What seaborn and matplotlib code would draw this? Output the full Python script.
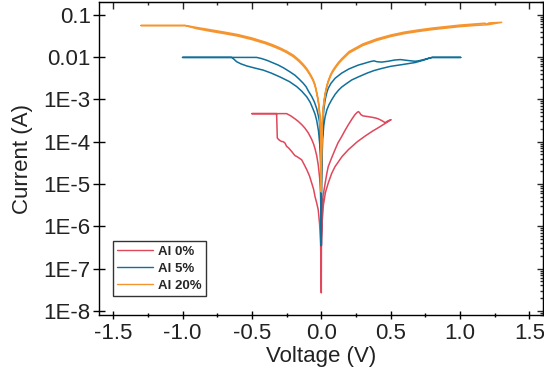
import matplotlib
matplotlib.use("Agg")
import numpy as np
import pandas as pd
import matplotlib.pyplot as plt
from matplotlib.ticker import MultipleLocator, LogLocator, NullFormatter
import seaborn as sns

# --- I-V sweeps: voltage (V) and |current| (A) ---
# each pair of lists is one full sweep loop (out and back on both sides)

# Al 0%
al0_v = [0.0, 0.001, 0.005, 0.012, 0.027, 0.04, 0.05, 0.075, 0.099, 0.12, 0.147, 0.17,
         0.195, 0.22, 0.243, 0.258, 0.267, 0.275, 0.285, 0.30, 0.32, 0.34, 0.36, 0.375,
         0.39, 0.41, 0.435, 0.45, 0.46, 0.47, 0.48, 0.503,
         0.47, 0.44, 0.411, 0.37, 0.315, 0.26, 0.195, 0.15, 0.099, 0.075, 0.05, 0.03,
         0.015, 0.005, 0.001, 0.0,
         -0.002, -0.006, -0.012, -0.022, -0.033, -0.045, -0.055, -0.07, -0.094, -0.118,
         -0.14, -0.166, -0.19, -0.22, -0.25, -0.50,
         -0.322, -0.317, -0.31, -0.30, -0.286, -0.275, -0.262, -0.25, -0.235, -0.214,
         -0.19, -0.177, -0.154, -0.141, -0.125, -0.105, -0.085, -0.069, -0.055, -0.045,
         -0.033, -0.022, -0.012, -0.005, -0.001, 0.0]
al0_i = [2.7e-8, 5.0e-7, 2.51e-6, 5.01e-6, 1.0e-5, 1.78e-5, 2.57e-5, 4.17e-5, 6.46e-5,
         9.33e-5, 1.32e-4, 1.82e-4, 2.51e-4, 3.39e-4, 4.37e-4, 4.9e-4, 5.13e-4, 4.9e-4,
         4.37e-4, 4.07e-4, 3.98e-4, 3.89e-4, 3.8e-4, 3.72e-4, 3.63e-4, 3.47e-4, 3.16e-4,
         2.95e-4, 2.82e-4, 2.95e-4, 3.09e-4, 3.31e-4,
         2.82e-4, 2.45e-4, 2.14e-4, 1.78e-4, 1.35e-4, 1.0e-4, 6.46e-5, 4.47e-5, 2.57e-5,
         1.78e-5, 1.05e-5, 6.31e-6, 3.16e-6, 1.12e-6, 3.98e-7, 3.5e-7,
         2.0e-6, 6.31e-6, 1.41e-5, 2.82e-5, 4.68e-5, 6.76e-5, 8.71e-5, 1.15e-4, 1.62e-4,
         2.09e-4, 2.51e-4, 3.02e-4, 3.47e-4, 4.07e-4, 4.6e-4, 4.6e-4,
         4.6e-4, 1.22e-4, 1.15e-4, 1.07e-4, 1.01e-4, 1.0e-4, 9.33e-5, 7.76e-5, 7.08e-5,
         5.89e-5, 4.68e-5, 4.47e-5, 3.98e-5, 3.72e-5, 2.95e-5, 2.19e-5, 1.55e-5, 1.05e-5,
         7.41e-6, 5.01e-6, 3.55e-6, 2.45e-6, 1.12e-6, 3.98e-7, 1.0e-7, 2.7e-8]

# Al 5%
al5_v = [0.0, 0.001, 0.004, 0.01, 0.018, 0.027, 0.04, 0.05, 0.07, 0.1, 0.147, 0.2, 0.267,
         0.31, 0.34, 0.363, 0.38, 0.40, 0.435, 0.48, 0.53, 0.57, 0.62, 0.676, 0.70, 0.74,
         0.784, 0.80, 1.005,
         0.80, 0.784, 0.73, 0.676, 0.58, 0.5, 0.435, 0.38, 0.33, 0.267, 0.22, 0.18, 0.147,
         0.125, 0.1, 0.075, 0.055, 0.04, 0.027, 0.018, 0.01, 0.004, 0.001, 0.0,
         -0.001, -0.003, -0.006, -0.01, -0.014, -0.02, -0.033, -0.05, -0.069, -0.09, -0.11,
         -0.13, -0.16, -0.19, -0.226, -0.27, -0.31, -0.346, -0.39, -0.43, -0.466, -1.0,
         -0.646, -0.63, -0.61, -0.58, -0.538, -0.48, -0.418, -0.36, -0.298, -0.23, -0.177,
         -0.14, -0.105, -0.08, -0.058, -0.045, -0.033, -0.02, -0.01, -0.004, -0.001, 0.0]
al5_i = [3.5e-7, 1.0e-5, 6.31e-5, 2.51e-4, 5.62e-4, 9.55e-4, 1.45e-3, 1.82e-3, 2.4e-3,
         3.16e-3, 4.17e-3, 5.25e-3, 6.46e-3, 7.08e-3, 7.59e-3, 7.94e-3, 8.13e-3, 7.76e-3,
         7.59e-3, 7.94e-3, 8.51e-3, 8.71e-3, 8.32e-3, 7.94e-3, 8.13e-3, 8.71e-3, 9.55e-3,
         9.8e-3, 9.8e-3,
         9.8e-3, 9.55e-3, 8.32e-3, 7.41e-3, 6.61e-3, 6.03e-3, 5.37e-3, 4.79e-3, 4.17e-3,
         3.39e-3, 2.88e-3, 2.34e-3, 1.95e-3, 1.66e-3, 1.32e-3, 9.77e-4, 7.41e-4, 5.62e-4,
         3.8e-4, 2.4e-4, 1.12e-4, 3.16e-5, 5.0e-6, 3.5e-7,
         1.0e-5, 3.98e-5, 1.0e-4, 2.0e-4, 3.02e-4, 3.98e-4, 6.03e-4, 8.71e-4, 1.17e-3,
         1.51e-3, 2.0e-3, 2.4e-3, 3.02e-3, 3.72e-3, 4.47e-3, 5.5e-3, 6.46e-3, 7.24e-3,
         8.32e-3, 9.2e-3, 9.8e-3, 9.8e-3,
         9.8e-3, 8.91e-3, 7.76e-3, 6.92e-3, 6.17e-3, 5.5e-3, 4.9e-3, 4.17e-3, 3.39e-3,
         2.63e-3, 2.0e-3, 1.55e-3, 1.15e-3, 8.51e-4, 5.75e-4, 4.47e-4, 3.16e-4, 1.78e-4,
         7.94e-5, 2.51e-5, 5.0e-6, 3.5e-7]

# Al 20%
al20_v = [0.0, 0.001, 0.002, 0.004, 0.007, 0.01, 0.015, 0.02, 0.03, 0.04, 0.05, 0.065,
          0.08, 0.1, 0.125, 0.15, 0.175, 0.2, 0.25, 0.3, 0.35, 0.4, 0.5, 0.6, 0.7, 0.8,
          0.9, 1.0, 1.1, 1.18, 1.19, 1.21, 1.3,
          1.2, 1.1, 1.0, 0.9, 0.8, 0.7, 0.6, 0.5, 0.4, 0.35, 0.3, 0.25, 0.2, 0.175, 0.15,
          0.125, 0.1, 0.08, 0.065, 0.05, 0.04, 0.03, 0.02, 0.015, 0.01, 0.007, 0.004,
          0.002, 0.001, 0.0,
          -0.001, -0.002, -0.004, -0.007, -0.01, -0.015, -0.02, -0.03, -0.045, -0.06,
          -0.08, -0.105, -0.13, -0.16, -0.2, -0.25, -0.3, -0.35, -0.4, -0.45, -0.5, -0.6,
          -0.7, -0.8, -0.9, -0.95, -0.98, -1.3,
          -0.98, -0.95, -0.9, -0.8, -0.7, -0.6, -0.5, -0.45, -0.4, -0.35, -0.3, -0.25,
          -0.2, -0.16, -0.13, -0.105, -0.08, -0.06, -0.045, -0.03, -0.02, -0.015, -0.01,
          -0.007, -0.004, -0.002, -0.001, 0.0]
al20_i = [6.6e-6, 3.16e-5, 6.31e-5, 1.41e-4, 2.82e-4, 4.17e-4, 6.76e-4, 9.55e-4, 1.51e-3,
          2.14e-3, 2.75e-3, 3.72e-3, 4.68e-3, 5.89e-3, 7.59e-3, 9.33e-3, 1.12e-2, 1.35e-2,
          1.66e-2, 2.04e-2, 2.34e-2, 2.69e-2, 3.31e-2, 3.89e-2, 4.37e-2, 4.84e-2, 5.25e-2,
          5.69e-2, 6.03e-2, 6.31e-2, 6.0e-2, 6.4e-2, 6.61e-2,
          5.8e-2, 5.55e-2, 5.23e-2, 4.83e-2, 4.45e-2, 4.02e-2, 3.58e-2, 3.05e-2, 2.47e-2,
          2.15e-2, 1.88e-2, 1.53e-2, 1.24e-2, 1.03e-2, 8.6e-3, 7.0e-3, 5.4e-3, 4.3e-3,
          3.42e-3, 2.53e-3, 1.97e-3, 1.39e-3, 8.8e-4, 6.2e-4, 3.84e-4, 2.6e-4, 1.3e-4,
          5.8e-5, 2.9e-5, 6.6e-6,
          3.16e-5, 6.31e-5, 1.41e-4, 2.82e-4, 3.98e-4, 6.31e-4, 8.71e-4, 1.35e-3, 2.24e-3,
          3.02e-3, 3.98e-3, 5.37e-3, 6.76e-3, 8.51e-3, 1.1e-2, 1.38e-2, 1.66e-2, 1.95e-2,
          2.24e-2, 2.51e-2, 2.82e-2, 3.39e-2, 3.89e-2, 4.42e-2, 5.01e-2, 5.37e-2, 5.56e-2,
          5.56e-2,
          5.56e-2, 5.2e-2, 4.7e-2, 4.07e-2, 3.58e-2, 3.12e-2, 2.59e-2, 2.31e-2, 2.06e-2,
          1.79e-2, 1.53e-2, 1.27e-2, 1.01e-2, 7.8e-3, 6.2e-3, 4.94e-3, 3.66e-3, 2.78e-3,
          2.06e-3, 1.24e-3, 8.0e-4, 5.8e-4, 3.66e-4, 2.6e-4, 1.3e-4, 5.8e-5, 2.9e-5, 6.6e-6]

labels = ["Al 0%", "Al 5%", "Al 20%"]
colors = ["#E0475B", "#11709A", "#F5952F"]

x_ticks = [-1.5, -1.0, -0.5, 0.0, 0.5, 1.0, 1.5]
x_tick_labels = ["-1.5", "-1.0", "-0.5", "0.0", "0.5", "1.0", "1.5"]
y_ticks = [1e-8, 1e-7, 1e-6, 1e-5, 1e-4, 1e-3, 1e-2, 1e-1]
y_tick_labels = ["1E-8", "1E-7", "1E-6", "1E-5", "1E-4", "1E-3", "0.01", "0.1"]

# --- build long table ---
frames = []
for name, v, i in zip(labels, [al0_v, al5_v, al20_v], [al0_i, al5_i, al20_i]):
    frames.append(pd.DataFrame({"V": v, "I": i, "sample": name}))
df = pd.concat(frames, ignore_index=True)

# --- plot ---
sns.set_style("ticks")
plt.rcParams["font.family"] = ["Liberation Sans", "DejaVu Sans"]
plt.rcParams["axes.unicode_minus"] = False

fig = plt.figure(figsize=(5.44, 3.76), dpi=100)
ax = fig.add_axes([0.1825, 0.1622, 0.8162, 0.8325])

sns.lineplot(data=df, x="V", y="I", hue="sample", hue_order=labels,
             palette=colors, estimator=None, sort=False, linewidth=1.1, ax=ax)
ax.set_yscale("log")

ax.set_xlim(-1.6, 1.6)
ax.set_ylim(8.0e-9, 0.2)
ax.set_xticks(x_ticks)
ax.set_xticklabels(x_tick_labels)
ax.xaxis.set_minor_locator(MultipleLocator(0.25))
ax.set_yticks(y_ticks)
ax.set_yticklabels(y_tick_labels)
ax.yaxis.set_minor_locator(LogLocator(base=10, subs=np.arange(2, 10)))
ax.yaxis.set_minor_formatter(NullFormatter())

txt = "#222222"
ax.tick_params(which="both", direction="inout", width=1.0, colors="black",
               labelcolor=txt, labelsize=16, top=False, right=False)
ax.tick_params(axis="y", which="major", length=8.4, pad=2)
ax.tick_params(axis="y", which="minor", length=4.8)
ax.tick_params(axis="x", which="major", length=6, pad=3)
ax.tick_params(axis="x", which="minor", length=3.4)
for s in ax.spines.values():
    s.set_color("black")
    s.set_linewidth(1.0)

# top / right ticks point inward only
top = ax.secondary_xaxis("top")
top.set_xticks(x_ticks)
top.xaxis.set_minor_locator(MultipleLocator(0.25))
top.xaxis.set_major_formatter(NullFormatter())
top.tick_params(which="both", direction="in", width=1.0)
top.tick_params(which="major", length=4.8)
top.tick_params(which="minor", length=2.5)

right = ax.secondary_yaxis("right")
right.set_yticks(y_ticks)
right.yaxis.set_minor_locator(LogLocator(base=10, subs=np.arange(2, 10)))
right.yaxis.set_major_formatter(NullFormatter())
right.yaxis.set_minor_formatter(NullFormatter())
right.tick_params(which="both", direction="in", width=1.0)
right.tick_params(which="major", length=4.0)
right.tick_params(which="minor", length=2.2)

ax.set_xlabel("Voltage (V)", fontsize=16, color=txt, labelpad=1)
ax.set_ylabel("Current (A)", fontsize=16, color=txt, labelpad=7.5)

handles, labs = ax.get_legend_handles_labels()
for h in handles:
    h.set_linewidth(1.0)
leg = ax.legend(handles, labs, loc="lower left", bbox_to_anchor=(0.03, 0.06),
                borderaxespad=0, frameon=True, fancybox=False, handlelength=2.7,
                labelspacing=0.35, handletextpad=0.4, borderpad=0.35,
                prop={"weight": "bold", "size": 9.5})
leg.get_frame().set_edgecolor("black")
leg.get_frame().set_linewidth(1.0)

fig.savefig("out.png", dpi=100)
